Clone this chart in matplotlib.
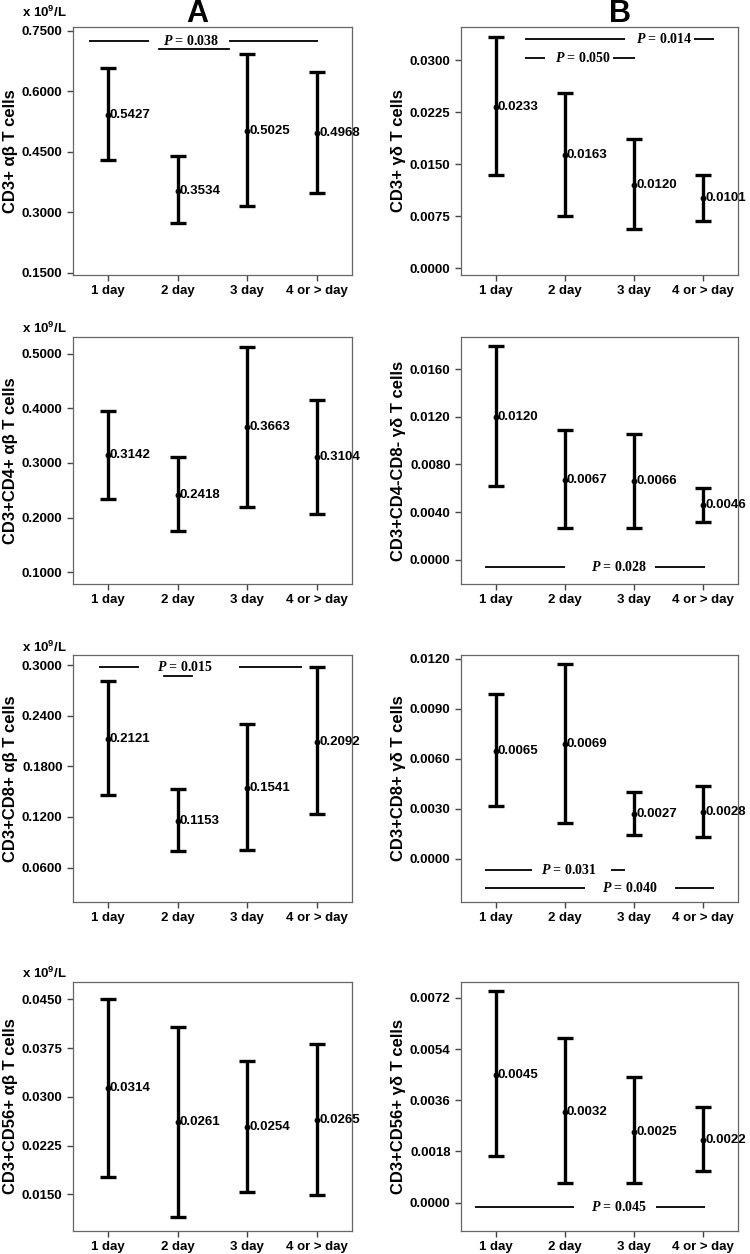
import numpy as np
import matplotlib
matplotlib.use("Agg")
import matplotlib.pyplot as plt

plt.rcParams['font.family'] = ['Liberation Sans', 'DejaVu Sans']
plt.rcParams['font.weight'] = 'bold'
plt.rcParams['mathtext.fontset'] = 'custom'
plt.rcParams['mathtext.it'] = 'Liberation Serif:bold:italic'
plt.rcParams['mathtext.rm'] = 'Liberation Sans:bold'

days = ['1 day', '2 day', '3 day', '4 or > day']

# column A: alpha-beta T cells (x 10^9/L), mean with 95% CI
ab_mean = [0.5427, 0.3534, 0.5025, 0.4968]
ab_lo = [0.429, 0.273, 0.315, 0.348]
ab_hi = [0.659, 0.439, 0.693, 0.649]

cd4_ab_mean = [0.3142, 0.2418, 0.3663, 0.3104]
cd4_ab_lo = [0.234, 0.175, 0.220, 0.207]
cd4_ab_hi = [0.395, 0.311, 0.512, 0.416]

cd8_ab_mean = [0.2121, 0.1153, 0.1541, 0.2092]
cd8_ab_lo = [0.1454, 0.0794, 0.0814, 0.1229]
cd8_ab_hi = [0.281, 0.1525, 0.230, 0.298]

cd56_ab_mean = [0.0314, 0.0261, 0.0254, 0.0265]
cd56_ab_lo = [0.01776, 0.01153, 0.01536, 0.01496]
cd56_ab_hi = [0.0450, 0.04076, 0.03546, 0.0382]

# column B: gamma-delta T cells
gd_mean = [0.0233, 0.0163, 0.0120, 0.0101]
gd_lo = [0.0134, 0.0075, 0.0057, 0.0068]
gd_hi = [0.0333, 0.0252, 0.0186, 0.0135]

dn_gd_mean = [0.0120, 0.0067, 0.0066, 0.0046]
dn_gd_lo = [0.0062, 0.00264, 0.0027, 0.0032]
dn_gd_hi = [0.0179, 0.0109, 0.01057, 0.00604]

cd8_gd_mean = [0.0065, 0.0069, 0.0027, 0.0028]
cd8_gd_lo = [0.00315, 0.00215, 0.00145, 0.00129]
cd8_gd_hi = [0.00989, 0.0117, 0.0040, 0.00435]

cd56_gd_mean = [0.0045, 0.0032, 0.0025, 0.0022]
cd56_gd_lo = [0.00164, 0.00068, 0.00068, 0.00112]
cd56_gd_hi = [0.00744, 0.00579, 0.00441, 0.00335]


def draw_panel(ax, mean, lo, hi, ylim, yticks, ylabel):
    x = np.arange(1, 5)
    mean = np.array(mean)
    yerr = [mean - np.array(lo), np.array(hi) - mean]
    ax.errorbar(x, mean, yerr=yerr, fmt='o', ms=3.2, color='black',
                ecolor='black', elinewidth=2.4, capsize=6, capthick=2.4)
    for xi, m in zip(x, mean):
        ax.annotate('%.4f' % m, (xi, m), xytext=(1.5, 0),
                    textcoords='offset points', va='center', ha='left',
                    fontsize=9.5, fontweight='bold')
    ax.set_xlim(0.5, 4.5)
    ax.set_ylim(*ylim)
    ax.set_yticks(yticks)
    ax.set_yticklabels(['%.4f' % t for t in yticks])
    ax.set_xticks(x)
    ax.set_xticklabels(days)
    ax.set_ylabel(ylabel, fontsize=12, fontweight='bold', labelpad=3)
    for s in ax.spines.values():
        s.set_color('#666666')
        s.set_linewidth(0.9)
    ax.tick_params(direction='out', length=4, width=1, color='#444444',
                   labelsize=9.5)


def p_line(ax, y, segs, tx, label):
    for a, b in segs:
        ax.plot([a, b], [y, y], color='black', lw=1.3, solid_capstyle='butt')
    ax.text(tx, y, '$P$ = ' + label, ha='center', va='center',
            fontsize=10, family='Liberation Serif', fontweight='bold')


fig = plt.figure(figsize=(7.5, 12.54), dpi=100)

left_x, left_w = 0.0973, 0.372
right_x, right_w = 0.6147, 0.369
rows = [(0.7807, 0.1978), (0.5343, 0.197), (0.2807, 0.197), (0.0183, 0.1986)]

axA = [fig.add_axes([left_x, b, left_w, h]) for b, h in rows]
axB = [fig.add_axes([right_x, b, right_w, h]) for b, h in rows]

draw_panel(axA[0], ab_mean, ab_lo, ab_hi, (0.145, 0.76),
           [0.15, 0.30, 0.45, 0.60, 0.75], 'CD3+ αβ T cells')
p_line(axA[0], 0.725, [(0.73, 1.59), (2.73, 4.01)], 2.2, '0.038')
axA[0].plot([1.73, 2.73], [0.705, 0.705], color='black', lw=1.3)

draw_panel(axA[1], cd4_ab_mean, cd4_ab_lo, cd4_ab_hi, (0.0786, 0.5305),
           [0.1, 0.2, 0.3, 0.4, 0.5], 'CD3+CD4+ αβ T cells')

draw_panel(axA[2], cd8_ab_mean, cd8_ab_lo, cd8_ab_hi, (0.0192, 0.3119),
           [0.06, 0.12, 0.18, 0.24, 0.30], 'CD3+CD8+ αβ T cells')
p_line(axA[2], 0.298, [(0.876, 1.45), (2.88, 3.78)], 2.1, '0.015')
axA[2].plot([1.80, 2.20], [0.2873, 0.2873], color='black', lw=1.3)

draw_panel(axA[3], cd56_ab_mean, cd56_ab_lo, cd56_ab_hi, (0.00938, 0.04765),
           [0.015, 0.0225, 0.03, 0.0375, 0.045], 'CD3+CD56+ αβ T cells')

draw_panel(axB[0], gd_mean, gd_lo, gd_hi, (-0.001, 0.0348),
           [0.0, 0.0075, 0.015, 0.0225, 0.03], 'CD3+ γδ T cells')
p_line(axB[0], 0.0330, [(1.42, 2.87), (3.87, 4.16)], 3.44, '0.014')
p_line(axB[0], 0.0303, [(1.42, 1.71), (2.69, 3.01)], 2.26, '0.050')

draw_panel(axB[1], dn_gd_mean, dn_gd_lo, dn_gd_hi, (-0.00203, 0.0187),
           [0.0, 0.004, 0.008, 0.012, 0.016], 'CD3+CD4-CD8- γδ T cells')
p_line(axB[1], -0.00064, [(0.85, 2.0), (3.30, 4.02)], 2.79, '0.028')

draw_panel(axB[2], cd8_gd_mean, cd8_gd_lo, cd8_gd_hi, (-0.0026, 0.01224),
           [0.0, 0.003, 0.006, 0.009, 0.012], 'CD3+CD8+ γδ T cells')
p_line(axB[2], -0.00066, [(0.85, 1.52), (2.67, 2.87)], 2.06, '0.031')
p_line(axB[2], -0.00175, [(0.85, 2.29), (3.59, 4.16)], 2.94, '0.040')

draw_panel(axB[3], cd56_gd_mean, cd56_gd_lo, cd56_gd_hi, (-0.001, 0.00776),
           [0.0, 0.0018, 0.0036, 0.0054, 0.0072], 'CD3+CD56+ γδ T cells')
p_line(axB[3], -0.00014, [(0.70, 2.14), (3.32, 4.02)], 2.79, '0.045')

# panel letters and units
H = 1254.0
fig.text(197 / 750, 1 - 14 / H, 'A', fontsize=22, ha='center', va='center',
         fontweight='bold')
fig.text(620 / 750, 1 - 14 / H, 'B', fontsize=22, ha='center', va='center',
         fontweight='bold')
for yy in [12, 328, 647, 973]:
    fig.text(22 / 750, 1 - yy / H, 'x 10$\\mathregular{^9}$/L', fontsize=9.5,
             ha='left', va='center', fontweight='bold')

fig.savefig('out.png', dpi=100)
